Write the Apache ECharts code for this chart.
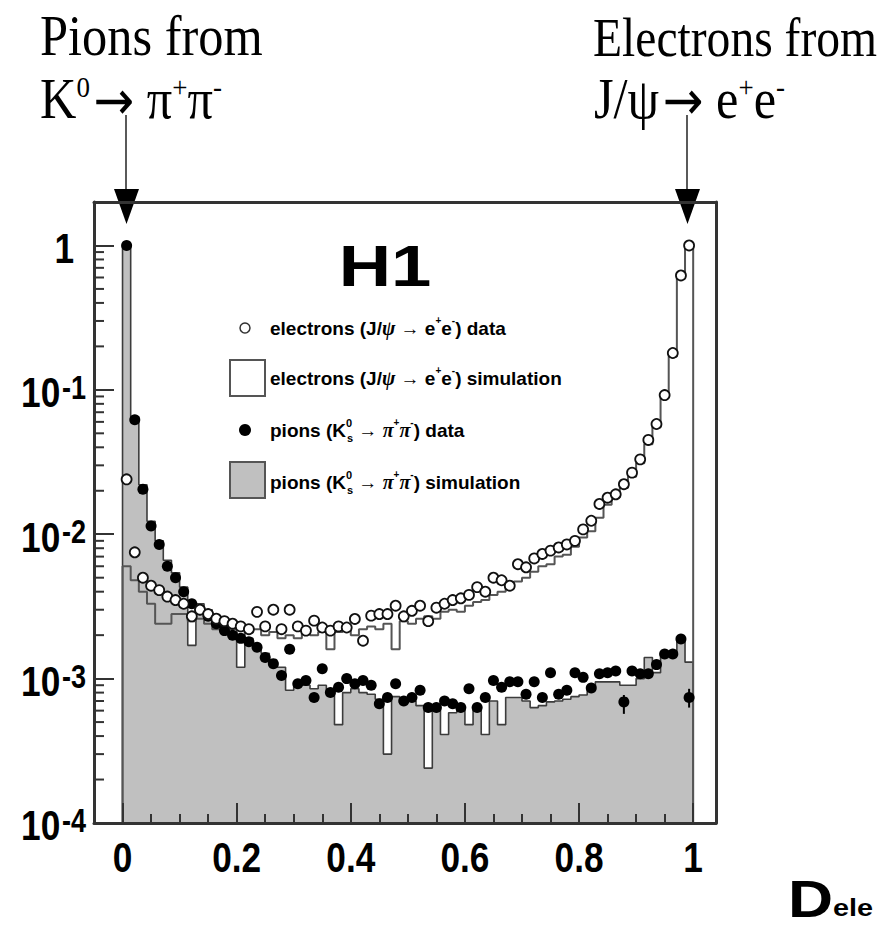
<!DOCTYPE html>
<html>
<head>
<meta charset="utf-8">
<script src="https://cdn.jsdelivr.net/npm/echarts@6/dist/echarts.min.js"></script>
<style>
html,body{margin:0;padding:0;background:#fff;}
#c{width:882px;height:931px;}
</style>
</head>
<body>
<div id="c"></div>
<script>
// ---- data (70 bins from 0 to 1) ----
const nBins = 70;
const xTickValues = [0, 0.2, 0.4, 0.6, 0.8, 1];
const xTickLabels = ['0', '0.2', '0.4', '0.6', '0.8', '1'];
const xMinorTicks = [0.05, 0.1, 0.15, 0.25, 0.3, 0.35, 0.45, 0.5, 0.55, 0.65, 0.7, 0.75, 0.85, 0.9, 0.95];
const yTickValues = [1, 0.1, 0.01, 0.001, 0.0001];
const yTickExponents = ['0', '-1', '-2', '-3', '-4'];
const yMinorTicks = [2e-4,3e-4,4e-4,5e-4,6e-4,7e-4,8e-4,9e-4,
                     2e-3,3e-3,4e-3,5e-3,6e-3,7e-3,8e-3,9e-3,
                     2e-2,3e-2,4e-2,5e-2,6e-2,7e-2,8e-2,9e-2,
                     0.2,0.3,0.4,0.5,0.6,0.7,0.8,0.9];

const electronData = [0.024,0.0075,0.0050,0.0044,0.0041,0.0037,0.0035,0.0033,0.0027,0.0030,
  0.0028,0.0026,0.0025,0.0024,0.0023,0.0022,0.0029,0.0023,0.0030,0.0022,
  0.0030,0.0023,0.00215,0.00252,0.00226,0.00215,0.0023,0.00226,0.00259,0.00183,
  0.00273,0.0028,0.0028,0.0032,0.0027,0.00295,0.0032,0.0025,0.0031,0.0033,
  0.0035,0.0036,0.0038,0.0043,0.0040,0.0050,0.0048,0.0044,0.0062,0.0059,
  0.0068,0.0073,0.0077,0.0081,0.0085,0.0090,0.0108,0.0124,0.0162,0.0179,
  0.0189,0.0222,0.0267,0.033,0.045,0.058,0.092,0.18,0.62,1.0];

const electronSim = [0.006,0.0048,0.0040,0.0033,0.0024,0.0024,0.0028,0.0028,0.0025,0.0026,
  0.0024,0.0022,0.0021,0.0022,0.0020,0.0021,0.0022,0.0020,0.0021,0.0019,
  0.0020,0.0019,0.0021,0.0020,0.0021,0.0016,0.0021,0.0022,0.0020,0.0022,
  0.0023,0.0022,0.0024,0.0016,0.0025,0.0024,0.0026,0.0027,0.0026,0.0029,
  0.0030,0.0029,0.0032,0.0034,0.0035,0.0038,0.0040,0.0044,0.0047,0.0050,
  0.0055,0.0060,0.0062,0.0070,0.0072,0.0082,0.0095,0.0105,0.013,0.016,
  0.018,0.021,0.025,0.031,0.042,0.055,0.088,0.17,0.60,0.98];

const pionData = [1.0,0.062,0.0205,0.0114,0.0085,0.0060,0.0050,0.0040,0.0033,0.0030,
  0.0027,0.0024,0.00215,0.0020,0.0019,0.0018,0.00165,0.0014,0.00127,0.00105,
  0.0016,0.00092,0.00097,0.00074,0.00117,0.0008,0.00087,0.0010,0.00092,0.00097,
  0.0009,0.00067,0.00074,0.00092,0.0007,0.00074,0.00083,0.00063,0.00063,0.0007,
  0.00067,0.00063,0.00085,0.00063,0.00074,0.00097,0.00087,0.00095,0.00095,0.00078,
  0.00095,0.00074,0.0011,0.00078,0.00083,0.0011,0.00102,0.00086,0.00108,0.0011,
  0.00113,0.00069,0.00113,0.00108,0.00108,0.00125,0.00148,0.00148,0.00188,0.00074];

const pionSim = [1.0,0.065,0.022,0.0123,0.0090,0.0066,0.0054,0.0043,0.0017,0.0033,
  0.0030,0.0026,0.0024,0.0021,0.0012,0.0019,0.0017,0.0015,0.0013,0.0012,
  0.00083,0.0009,0.0009,0.00085,0.0009,0.0008,0.00048,0.0008,0.00085,0.0008,
  0.00078,0.00072,0.0003,0.00075,0.00068,0.0007,0.00065,0.00024,0.00062,0.00041,
  0.00058,0.00062,0.00048,0.00062,0.00041,0.0007,0.00048,0.00074,0.00074,0.0007,
  0.00063,0.00065,0.00069,0.0007,0.00072,0.00075,0.00077,0.00087,0.00095,0.00095,
  0.00095,0.0009,0.0009,0.0010,0.0014,0.0011,0.0015,0.0015,0.0019,0.0013];

// visible error bars on pion data
const pionErrBins = [61, 69];
const pionErrLow = [0.00057, 0.00063];
const pionErrHigh = [0.00077, 0.00085];

// ---- helpers ----
const binW = 1 / nBins;
const yMin = 1e-4, yMax = 2;
const xMin = -0.05, xMax = 1.04;
function histLine(vals) {
  const pts = [[0, yMin]];
  vals.forEach((v, i) => { pts.push([i * binW, v]); pts.push([(i + 1) * binW, v]); });
  pts.push([1, yMin]);
  return pts;
}
function points(vals) { return vals.map((v, i) => [(i + 0.5) * binW, v]); }

const SANS = '"Liberation Sans", Arial, sans-serif';
const SERIF = '"Liberation Serif", "Times New Roman", serif';
const FRAME = '#333';
const TICKFONT = 43, TICKSCALE = 0.82;

const chart = echarts.init(document.getElementById('c'), null, {renderer: 'svg', width: 882, height: 931});

const legRich = {
  t: {fontFamily: SANS, fontWeight: 'bold', fontSize: 19, lineHeight: 26, color: '#111'},
  g: {fontFamily: SERIF, fontStyle: 'italic', fontWeight: 'bold', fontSize: 20, lineHeight: 26, color: '#111'},
  sp: {fontFamily: SANS, fontWeight: 'bold', fontSize: 10, lineHeight: 12, verticalAlign: 'top', color: '#111'},
  sp0: {fontFamily: SANS, fontWeight: 'bold', fontSize: 11, lineHeight: 12, verticalAlign: 'top', width: 1, color: '#111'},
  sb: {fontFamily: SANS, fontWeight: 'bold', fontSize: 11, lineHeight: 12, verticalAlign: 'bottom', color: '#111'}
};
const titleRich = {
  n: {fontFamily: SERIF, fontSize: 56, lineHeight: 56, color: '#000'},
  s: {fontFamily: SERIF, fontSize: 30, lineHeight: 30, verticalAlign: 'top', color: '#000'},
  a: {fontFamily: '"DejaVu Sans", sans-serif', fontSize: 54, lineHeight: 56, color: '#000', padding: [0, 14, 0, 4]}
};

const option = {
  animation: false,
  backgroundColor: '#fff',
  grid: {left: 94, top: 202, width: 622, height: 621, show: false},
  xAxis: [
    {type: 'value', min: xMin, max: xMax, position: 'bottom', z: 10,
     axisLine: {show: true, onZero: false, lineStyle: {color: FRAME, width: 3}},
     axisTick: {show: true, inside: true, length: 20, customValues: xTickValues, lineStyle: {color: FRAME, width: 2}},
     axisLabel: {show: false}, splitLine: {show: false}},
    {type: 'value', min: xMin, max: xMax, position: 'bottom', z: 10,
     axisLine: {show: false},
     axisTick: {show: true, inside: true, length: 9, customValues: xMinorTicks, lineStyle: {color: FRAME, width: 2}},
     axisLabel: {show: false}, splitLine: {show: false}},
    {type: 'value', min: xMin, max: xMax, position: 'top', z: 10,
     axisLine: {show: true, onZero: false, lineStyle: {color: FRAME, width: 3}},
     axisTick: {show: false}, axisLabel: {show: false}, splitLine: {show: false}}
  ],
  yAxis: [
    {type: 'log', logBase: 10, min: yMin, max: yMax, position: 'left', z: 10,
     axisLine: {show: true, onZero: false, lineStyle: {color: FRAME, width: 3}},
     axisTick: {show: true, inside: true, length: 20, lineStyle: {color: FRAME, width: 2}},
     axisLabel: {show: false}, splitLine: {show: false}, minorTick: {show: false}},
    {type: 'log', logBase: 10, min: yMin, max: yMax, position: 'right', z: 10,
     axisLine: {show: true, onZero: false, lineStyle: {color: FRAME, width: 3}},
     axisTick: {show: false}, axisLabel: {show: false}, splitLine: {show: false}}
  ],
  series: [
    {name: 'pions (K0s → π+π-) simulation', type: 'line', xAxisIndex: 0, yAxisIndex: 0,
     data: histLine(pionSim), symbol: 'none', z: 1,
     lineStyle: {color: '#3c3c3c', width: 1.6},
     areaStyle: {color: '#c0c0c0', opacity: 1, origin: 'start'}},
    {name: 'electrons (J/ψ → e+e-) simulation', type: 'line', xAxisIndex: 0, yAxisIndex: 0,
     data: histLine(electronSim), symbol: 'none', z: 2,
     lineStyle: {color: '#555', width: 2}},
    {name: 'pion errors', type: 'custom', xAxisIndex: 0, yAxisIndex: 0, z: 3,
     data: pionErrBins.map((b, k) => [(b + 0.5) * binW, pionErrLow[k], pionErrHigh[k]]),
     encode: {x: 0, y: [1, 2]},
     renderItem: (params, api) => {
       const a = api.coord([api.value(0), api.value(1)]);
       const b = api.coord([api.value(0), api.value(2)]);
       return {type: 'line', shape: {x1: a[0], y1: a[1], x2: b[0], y2: b[1]}, style: {stroke: '#000', lineWidth: 2}};
     }},
    {name: 'pions (K0s → π+π-) data', type: 'scatter', xAxisIndex: 0, yAxisIndex: 0,
     data: points(pionData), symbol: 'circle', symbolSize: 11, z: 4,
     itemStyle: {color: '#000', opacity: 1}},
    {name: 'electrons (J/ψ → e+e-) data', type: 'scatter', xAxisIndex: 0, yAxisIndex: 0,
     data: points(electronData), symbol: 'circle', symbolSize: 10, z: 5,
     itemStyle: {color: '#fff', borderColor: '#111', borderWidth: 1.8, opacity: 1}},
    {name: 'y minor ticks', type: 'custom', xAxisIndex: 0, yAxisIndex: 0, z: 11, silent: true,
     data: yMinorTicks.map(v => [xMin, v]),
     renderItem: (params, api) => {
       const p = api.coord([api.value(0), api.value(1)]);
       return {type: 'line', shape: {x1: p[0], y1: p[1], x2: p[0] + 10, y2: p[1]}, style: {stroke: FRAME, lineWidth: 2}};
     }},
    {name: 'x tick labels', type: 'custom', xAxisIndex: 0, yAxisIndex: 0, z: 11, silent: true, clip: false,
     data: xTickValues.map(v => [v, yMin]),
     renderItem: (params, api) => {
       const p = api.coord([api.value(0), api.value(1)]);
       return {type: 'text', x: p[0], y: p[1] + 34, scaleX: TICKSCALE,
         style: {text: xTickLabels[params.dataIndex], fontFamily: SANS, fontWeight: 'bold', fontSize: TICKFONT,
                 fill: '#000', align: 'center', verticalAlign: 'middle'}};
     }},
    {name: 'y tick labels', type: 'custom', xAxisIndex: 0, yAxisIndex: 0, z: 11, silent: true, clip: false,
     data: yTickValues.map(v => [xMin, v]),
     renderItem: (params, api) => {
       const p = api.coord([api.value(0), api.value(1)]);
       const ex = yTickExponents[params.dataIndex];
       const txt = ex === '0' ? '{b|1}' : '{b|10}{s|' + ex + '}';
       return {type: 'text', x: p[0] - (ex === '0' ? 20 : 8), y: p[1] + 2, scaleX: TICKSCALE,
         style: {text: txt, align: 'right', verticalAlign: 'middle',
           rich: {b: {fontFamily: SANS, fontWeight: 'bold', fontSize: TICKFONT, lineHeight: 42, fill: '#000'},
                  s: {fontFamily: SANS, fontWeight: 'bold', fontSize: 33, lineHeight: 20, verticalAlign: 'top', fill: '#000', padding: [0, 0, 0, 2]}}}};
     }}
  ],
  graphic: [
    // top annotations
    {type: 'text', x: 40, y: 37, scaleX: 0.9, style: {text: 'Pions from', font: '56px ' + SERIF, fill: '#000', verticalAlign: 'middle'}},
    {type: 'text', x: 40, y: 100, scaleX: 0.9, style: {text: '{n|K}{s|0}{a|→}{n|π}{s|+}{n|π}{s|-}', rich: titleRich, verticalAlign: 'middle'}},
    {type: 'text', x: 593, y: 37, scaleX: 0.85, style: {text: 'Electrons from', font: '56px ' + SERIF, fill: '#000', verticalAlign: 'middle'}},
    {type: 'text', x: 594, y: 100, scaleX: 0.9, style: {text: '{n|J/ψ}{a|→}{n|e}{s|+}{n|e}{s|-}', rich: titleRich, verticalAlign: 'middle'}},
    {type: 'line', shape: {x1: 126, y1: 115, x2: 126, y2: 192}, style: {stroke: '#000', lineWidth: 1.3}},
    {type: 'polygon', shape: {points: [[114, 189], [139, 189], [126.5, 224]]}, style: {fill: '#000'}},
    {type: 'line', shape: {x1: 687, y1: 115, x2: 687, y2: 192}, style: {stroke: '#000', lineWidth: 1.3}},
    {type: 'polygon', shape: {points: [[675, 189], [700, 189], [687.5, 224]]}, style: {fill: '#000'}},
    // H1 label
    {type: 'text', x: 385, y: 266, z: 20, scaleX: 1.25, style: {text: 'H1', font: 'bold 58px ' + SANS, fill: '#000', align: 'center', verticalAlign: 'middle'}},
    // legend
    {type: 'circle', z: 20, shape: {cx: 245, cy: 328, r: 5}, style: {fill: '#fff', stroke: '#333', lineWidth: 1.5}},
    {type: 'text', x: 270, y: 328, z: 20, style: {text: '{t|electrons (J/}{g|ψ}{t| → e}{sp|+}{t|e}{sp|-}{t|) data}', rich: legRich, verticalAlign: 'middle'}},
    {type: 'rect', z: 20, shape: {x: 230, y: 360, width: 35, height: 36}, style: {fill: '#fff', stroke: '#555', lineWidth: 2}},
    {type: 'text', x: 270, y: 378, z: 20, style: {text: '{t|electrons (J/}{g|ψ}{t| → e}{sp|+}{t|e}{sp|-}{t|) simulation}', rich: legRich, verticalAlign: 'middle'}},
    {type: 'circle', z: 20, shape: {cx: 245, cy: 430, r: 6}, style: {fill: '#000'}},
    {type: 'text', x: 270, y: 430, z: 20, style: {text: '{t|pions (K}{sp0|0}{sb|s}{t| → }{g|π}{sp|+}{g|π}{sp|-}{t|) data}', rich: legRich, verticalAlign: 'middle'}},
    {type: 'rect', z: 20, shape: {x: 230, y: 462, width: 35, height: 36}, style: {fill: '#c0c0c0', stroke: '#555', lineWidth: 2}},
    {type: 'text', x: 270, y: 482, z: 20, style: {text: '{t|pions (K}{sp0|0}{sb|s}{t| → }{g|π}{sp|+}{g|π}{sp|-}{t|) simulation}', rich: legRich, verticalAlign: 'middle'}},
    // axis title
    {type: 'text', x: 788, y: 899, z: 20, scaleX: 1.2, style: {text: '{d|D}{e|ele}', verticalAlign: 'middle',
      rich: {d: {fontFamily: SANS, fontWeight: 'bold', fontSize: 52, lineHeight: 42, color: '#000'},
             e: {fontFamily: SANS, fontWeight: 'bold', fontSize: 24, lineHeight: 18, verticalAlign: 'bottom', color: '#000'}}}}
  ]
};
chart.setOption(option);
</script>
</body>
</html>
